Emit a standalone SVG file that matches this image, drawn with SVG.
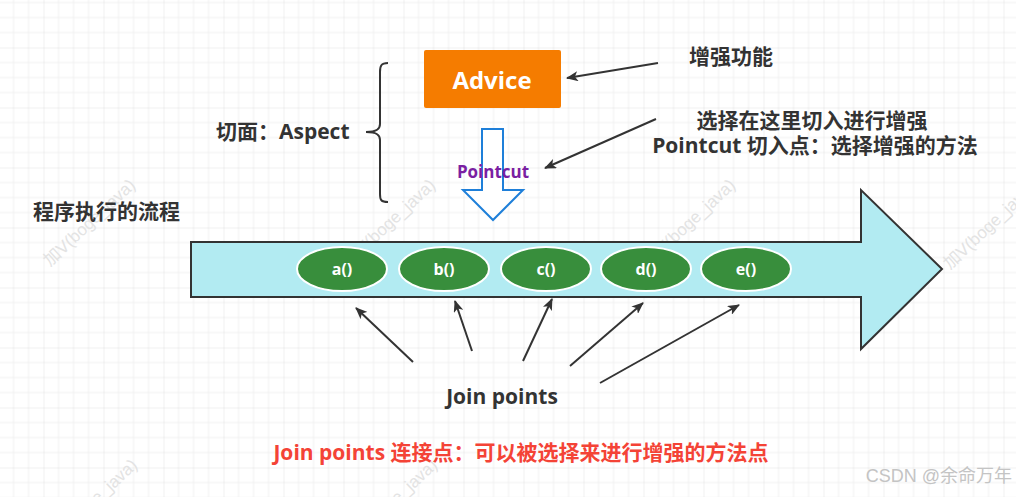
<svg xmlns="http://www.w3.org/2000/svg" width="1016" height="497" viewBox="0 0 1016 497">
  <defs>
    <pattern id="grid" patternUnits="userSpaceOnUse" x="-16.5" y="-12.5" width="60" height="60">
      <path d="M15,0V60M30,0V60M45,0V60M0,15H60M0,30H60M0,45H60" stroke="#f0f0f0" stroke-width="1" fill="none"/>
      <path d="M0,0V60M0,0H60" stroke="#e2e2e2" stroke-width="1" fill="none"/>
    </pattern>
    <marker id="ah" viewBox="0 0 12 10" refX="11" refY="5" markerWidth="12" markerHeight="10" markerUnits="userSpaceOnUse" orient="auto">
      <path d="M0,0 L12,5 L0,10 L3,5 z" fill="#333"/>
    </marker>
  </defs>
  <style>
    .t { font-family: "Open Sans", "Noto Sans CJK SC", sans-serif; font-weight: bold; font-size: 21px; fill: #333; dominant-baseline: central; }
    .c { text-anchor: middle; }
    .wm { font-family: "Liberation Sans", "Noto Sans CJK SC", sans-serif; font-size: 17px; fill: #e3e3e3; }
    .ell { fill: #388e3c; stroke: #ffffff; stroke-width: 2; }
    .et { font-family: "Open Sans", "Noto Sans CJK SC", sans-serif; font-weight: bold; font-size: 16px; fill: #fff; text-anchor: middle; dominant-baseline: central; }
    .ln { stroke: #333; stroke-width: 2; fill: none; marker-end: url(#ah); }
  </style>

  <rect width="1016" height="497" fill="#ffffff"/>
  <rect width="1016" height="497" fill="url(#grid)"/>

  <g id="watermarks">
    <text class="wm" transform="translate(50,267) rotate(-43)">加V(boge_java)</text>
    <text class="wm" transform="translate(350,267) rotate(-43)">加V(boge_java)</text>
    <text class="wm" transform="translate(650,267) rotate(-43)">加V(boge_java)</text>
    <text class="wm" transform="translate(950,270) rotate(-43)">加V(boge_java)</text>
    <text class="wm" transform="translate(52,547) rotate(-43)">加V(boge_java)</text>
    <text class="wm" transform="translate(352,547) rotate(-43)">加V(boge_java)</text>
  </g>

  <g id="flow-arrow">
    <path d="M191,242 H861 V190 L942,269 L861,349 V297 H191 Z" fill="#b2ebf2" stroke="#333" stroke-width="2" stroke-linejoin="miter"/>
  </g>

  <g id="advice">
    <rect x="424" y="50" width="137" height="58" rx="2" fill="#f57c00"/>
    <text class="t c" x="492" y="79" style="fill:#fff;font-size:24px">Advice</text>
  </g>

  <g id="aspect">
    <path d="M388,63 C381,63 380,66 380,72 L380,124 C380,129 377,132 366,132 C377,132 380,135 380,140 L380,194 C380,200 381,202 388,202" fill="none" stroke="#333" stroke-width="2"/>
    <text class="t" x="216" y="131">切面：Aspect</text>
  </g>

  <g id="pointcut">
    <path d="M482,129 H503 V190 H523 L493,220 L463,190 H482 Z" fill="#ffffff" stroke="#1e7fd9" stroke-width="2" stroke-linejoin="miter"/>
    <text class="t c" x="493" y="171" style="fill:#7b1fa2;font-size:17px">Pointcut</text>
  </g>

  <g id="label-enhance">
    <text class="t c" x="731" y="56">增强功能</text>
  </g>
  <g id="label-pointcut">
    <text class="t c" x="812" y="120">选择在这里切入进行增强</text>
    <text class="t c" x="815" y="145">Pointcut 切入点：选择增强的方法</text>
  </g>
  <g id="label-flow">
    <text class="t" x="33" y="211">程序执行的流程</text>
  </g>

  <g id="node-a"><ellipse class="ell" cx="342" cy="269" rx="45" ry="22"/><text class="et" x="342" y="269">a()</text></g>
  <g id="node-b"><ellipse class="ell" cx="444" cy="269" rx="45" ry="22"/><text class="et" x="444" y="269">b()</text></g>
  <g id="node-c"><ellipse class="ell" cx="546" cy="269" rx="45" ry="22"/><text class="et" x="546" y="269">c()</text></g>
  <g id="node-d"><ellipse class="ell" cx="646" cy="269" rx="45" ry="22"/><text class="et" x="646" y="269">d()</text></g>
  <g id="node-e"><ellipse class="ell" cx="746" cy="269" rx="45" ry="22"/><text class="et" x="746" y="269">e()</text></g>

  <g id="label-joinpoints">
    <text class="t c" x="502" y="396">Join points</text>
  </g>
  <g id="label-note">
    <text class="t c" x="521" y="452" style="fill:#f44336">Join points 连接点：可以被选择来进行增强的方法点</text>
  </g>

  <g id="connectors">
    <line class="ln" x1="658" y1="63" x2="567" y2="78"/>
    <line class="ln" x1="656" y1="119" x2="545" y2="168"/>
    <line class="ln" x1="413" y1="362" x2="356" y2="308"/>
    <line class="ln" x1="472" y1="351" x2="455" y2="301"/>
    <line class="ln" x1="523" y1="361" x2="552" y2="299"/>
    <line class="ln" x1="570" y1="366" x2="643" y2="303"/>
    <line class="ln" x1="600" y1="383" x2="739" y2="305"/>
  </g>

  <g id="csdn-mark">
    <text x="1012" y="476" text-anchor="end" dominant-baseline="central" font-family="Liberation Sans, Noto Sans CJK SC, sans-serif" font-size="18" fill="#c4c4c4">CSDN @余命万年</text>
  </g>
</svg>
